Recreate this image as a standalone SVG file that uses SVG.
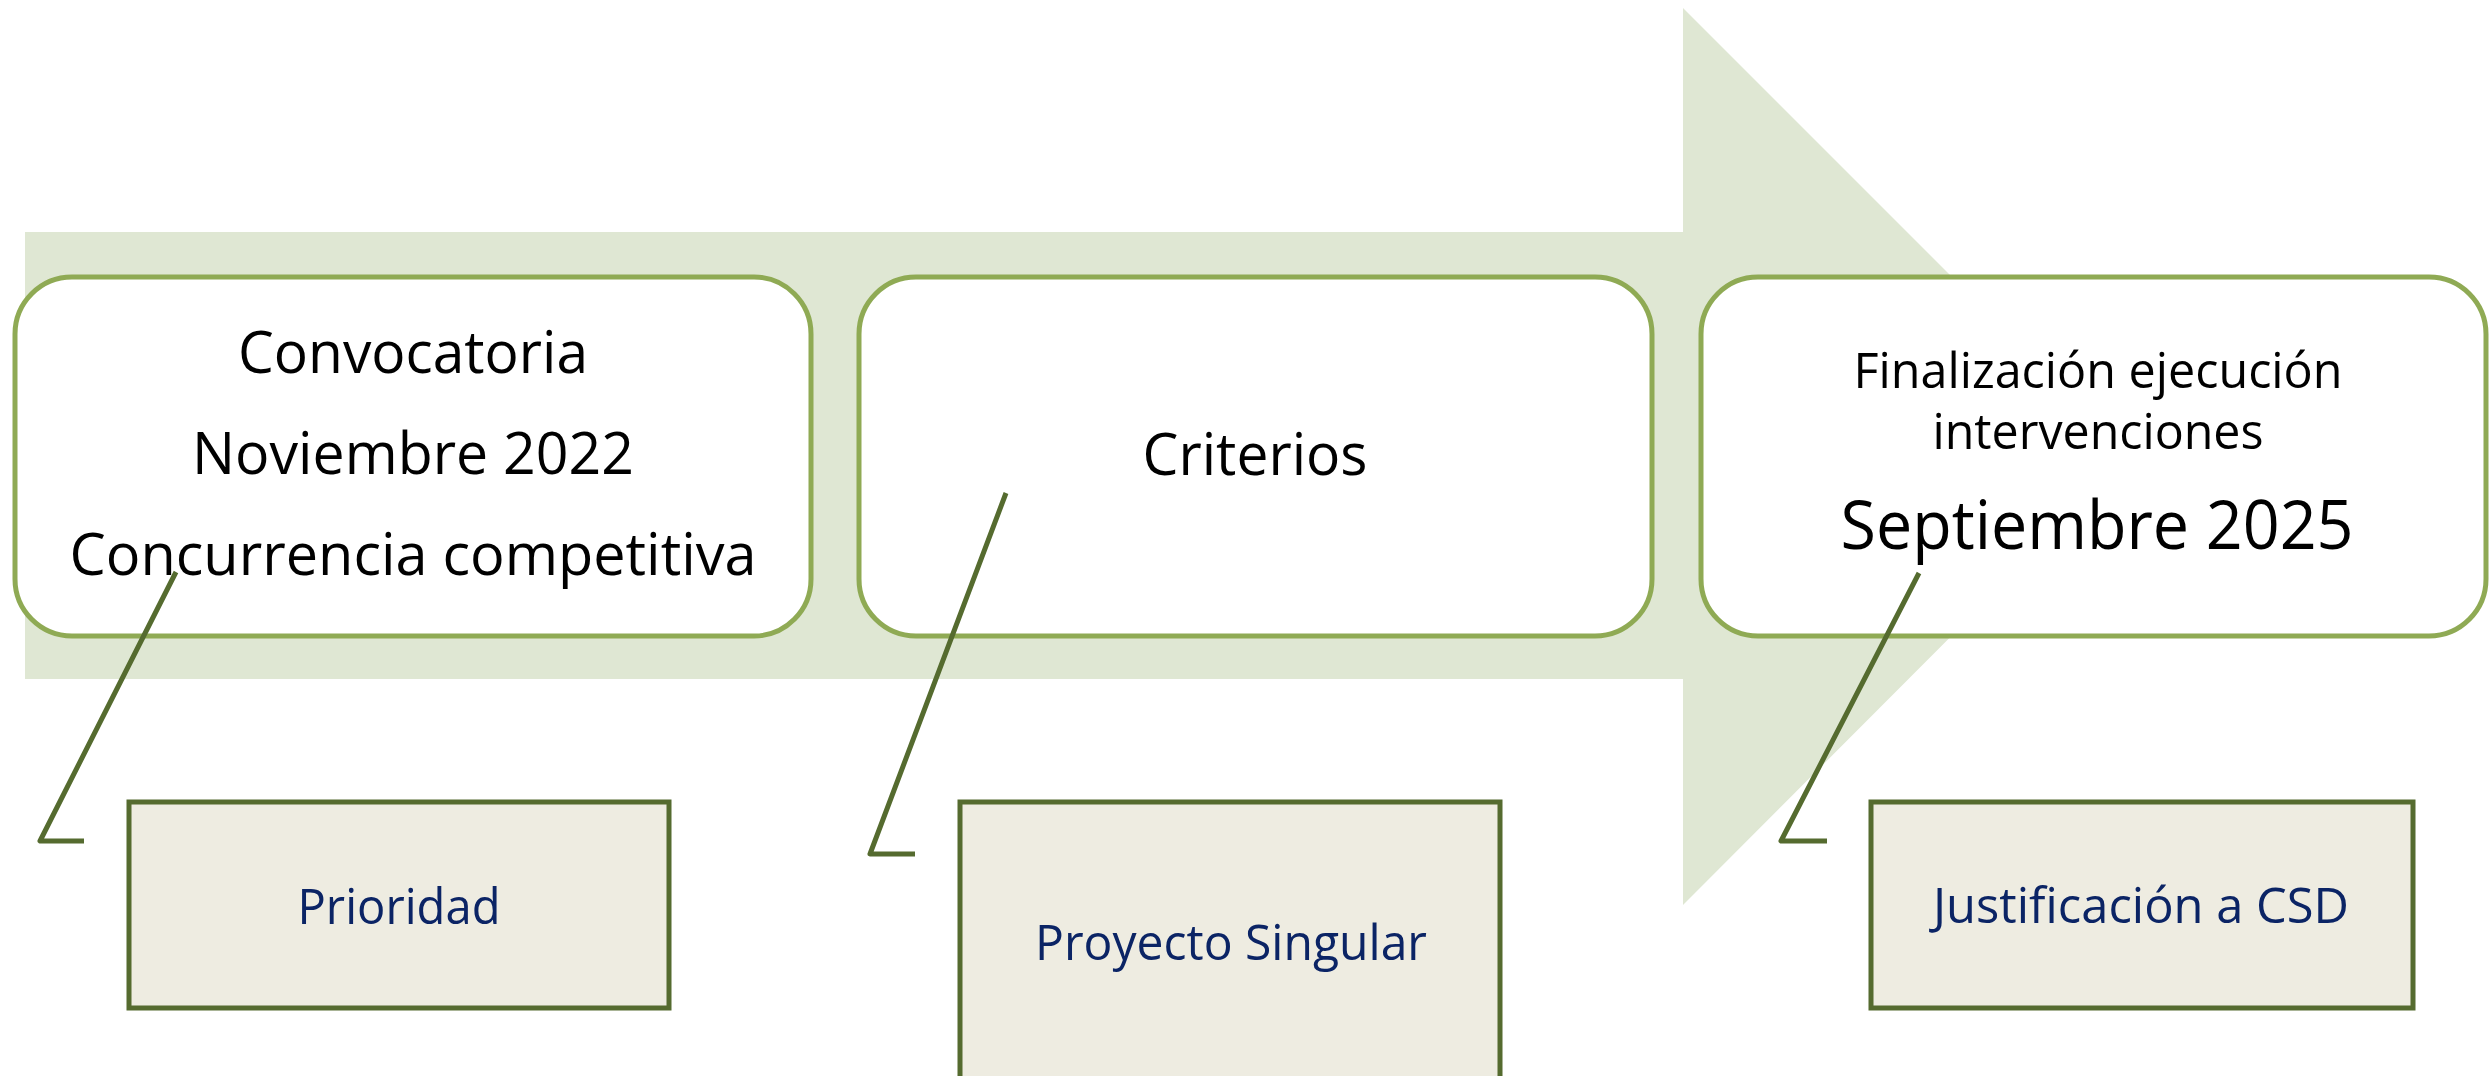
<svg xmlns="http://www.w3.org/2000/svg" width="2489" height="1076" viewBox="0 0 2489 1076">
<style>
.top{fill:#ffffff;stroke:#8faa54;stroke-width:5}
.bot{fill:#eeece1;stroke:#556b2f;stroke-width:5}
.conn{fill:none;stroke:#556b2f;stroke-width:5;stroke-linejoin:round}
.t{font-family:"Open Sans","Noto Sans","DejaVu Sans",sans-serif;fill:#000000;text-anchor:middle}
.b{font-family:"Open Sans","Noto Sans","DejaVu Sans",sans-serif;fill:#0b2465;text-anchor:middle}
</style>
<rect width="2489" height="1076" fill="#ffffff"/>
<g id="arrow">
<polygon points="25,232 1683,232 1683,8 2131,456 1683,905 1683,679 25,679" fill="#dfe7d3"/>
</g>
<g id="node-convocatoria">
<rect class="top" x="15" y="277" width="796" height="359" rx="57" ry="57"/>
<text class="t" x="413" y="373" font-size="58" textLength="350" lengthAdjust="spacingAndGlyphs">Convocatoria</text>
<text class="t" x="413" y="474" font-size="58" textLength="442" lengthAdjust="spacingAndGlyphs">Noviembre 2022</text>
<text class="t" x="413" y="575" font-size="58" textLength="687" lengthAdjust="spacingAndGlyphs">Concurrencia competitiva</text>
</g>
<g id="node-criterios">
<rect class="top" x="859" y="277" width="793" height="359" rx="57" ry="57"/>
<text class="t" x="1255" y="475" font-size="59" textLength="225" lengthAdjust="spacingAndGlyphs">Criterios</text>
</g>
<g id="node-finalizacion">
<rect class="top" x="1701" y="277" width="785" height="359" rx="57" ry="57"/>
<text class="t" x="2098" y="388" font-size="49" textLength="489" lengthAdjust="spacingAndGlyphs">Finalización ejecución</text>
<text class="t" x="2098" y="449" font-size="49" textLength="331" lengthAdjust="spacingAndGlyphs">intervenciones</text>
<text class="t" x="2097" y="549" font-size="67" textLength="513" lengthAdjust="spacingAndGlyphs">Septiembre 2025</text>
</g>
<g id="connectors">
<polyline class="conn" points="176,572 40,841 84,841"/>
<polyline class="conn" points="1006,493 870,854 915,854"/>
<polyline class="conn" points="1919,573 1781,841 1827,841"/>
</g>
<g id="node-prioridad">
<rect class="bot" x="129" y="802" width="540" height="206"/>
<text class="b" x="399" y="924" font-size="49" textLength="203" lengthAdjust="spacingAndGlyphs">Prioridad</text>
</g>
<g id="node-proyecto">
<rect class="bot" x="960" y="802" width="540" height="300"/>
<text class="b" x="1231" y="960" font-size="50" textLength="392" lengthAdjust="spacingAndGlyphs">Proyecto Singular</text>
</g>
<g id="node-justificacion">
<rect class="bot" x="1871" y="802" width="542" height="206"/>
<text class="b" x="2141" y="923" font-size="50" textLength="416" lengthAdjust="spacingAndGlyphs">Justificación a CSD</text>
</g>
</svg>
